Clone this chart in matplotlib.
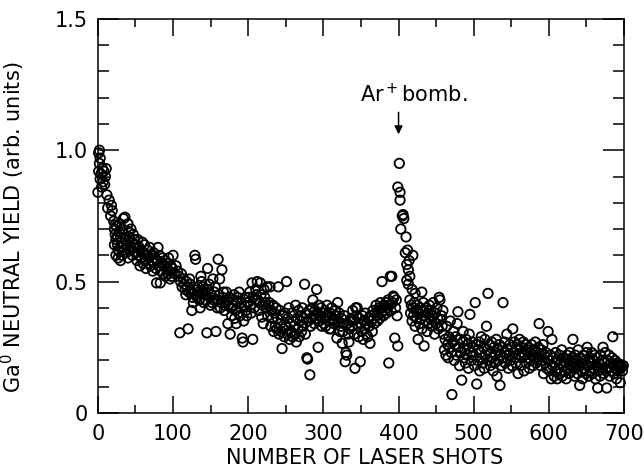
import numpy as np
import matplotlib
matplotlib.use("Agg")
import matplotlib.pyplot as plt
from matplotlib.ticker import MultipleLocator

plt.rcParams['font.family'] = ['DejaVu Sans']

# data, in segments along the shot axis
# first shots (0-50)
shots_start = [1, 2, 3, 2, 1, 4, 6, 8, 10, 3, 7, 9, 5, 11, 0, 12, 15, 13, 18, 17, 19,
               21, 22, 23, 24, 25, 26, 27, 24, 28, 29, 30, 31, 32, 33, 34, 35, 36, 37, 38,
               39, 40, 41, 42, 43, 44, 45, 46, 47, 48, 49, 27, 30, 22, 26, 32, 35, 40, 44, 23, 28]
yield_start = [0.99, 1.00, 0.97, 0.95, 0.92, 0.91, 0.93, 0.92, 0.90, 0.89, 0.88, 0.87, 0.86, 0.93, 0.84, 0.83, 0.81, 0.78, 0.79, 0.75, 0.77,
               0.73, 0.70, 0.68, 0.66, 0.71, 0.64, 0.62, 0.60, 0.69, 0.72, 0.67, 0.65, 0.63, 0.70, 0.74, 0.68, 0.745, 0.66, 0.61,
               0.64, 0.72, 0.69, 0.67, 0.62, 0.70, 0.65, 0.60, 0.68, 0.63, 0.66, 0.59, 0.58, 0.64, 0.67, 0.60, 0.62, 0.59, 0.63, 0.715, 0.615]

# 50-100
shots_early = list(range(50, 101))
yield_early = [0.64, 0.61, 0.58, 0.66, 0.60, 0.63, 0.56, 0.62, 0.59, 0.65, 0.57, 0.61, 0.64, 0.58, 0.55, 0.60, 0.62,
               0.57, 0.59, 0.63, 0.56, 0.60, 0.58, 0.54, 0.61, 0.57, 0.59, 0.55, 0.495, 0.58, 0.63, 0.56, 0.60, 0.495,
               0.54, 0.57, 0.59, 0.53, 0.56, 0.58, 0.52, 0.55, 0.57, 0.53, 0.59, 0.54, 0.51, 0.56, 0.52, 0.55, 0.60]

# 100-200
shots_mid1 = [106, 108, 110, 109, 112, 114, 116, 118, 120, 121, 123, 125, 126, 128, 129, 130, 131, 133, 135, 137,
              138, 139, 140, 141, 143, 145, 146, 147, 149, 150, 152, 153, 155, 157, 158, 160, 161, 162, 163, 165,
              166, 167, 168, 170, 171, 173, 174, 175, 176, 177, 178, 180, 181, 183, 184, 185, 187, 188, 190, 192,
              193, 194, 195, 196, 198, 199, 102, 104, 111, 115, 117, 119, 122, 124, 127, 132, 134, 136, 142, 144,
              148, 151, 154, 156, 159, 164, 169, 172, 179, 182, 186, 189, 191, 197]
yield_mid1 = [0.54, 0.52, 0.50, 0.305, 0.48, 0.51, 0.47, 0.50, 0.32, 0.46, 0.49, 0.39, 0.44, 0.47, 0.60, 0.585, 0.45, 0.48, 0.43, 0.52,
              0.50, 0.46, 0.48, 0.42, 0.45, 0.305, 0.55, 0.47, 0.44, 0.41, 0.42, 0.51, 0.46, 0.31, 0.43, 0.585, 0.45, 0.51, 0.40, 0.545,
              0.44, 0.46, 0.39, 0.42, 0.46, 0.34, 0.41, 0.44, 0.30, 0.40, 0.37, 0.43, 0.45, 0.39, 0.34, 0.42, 0.38, 0.46, 0.40, 0.285,
              0.27, 0.35, 0.41, 0.44, 0.37, 0.42, 0.53, 0.56, 0.53, 0.49, 0.45, 0.48, 0.51, 0.46, 0.42, 0.44, 0.46, 0.40, 0.47, 0.43,
              0.49, 0.45, 0.43, 0.48, 0.40, 0.42, 0.41, 0.43, 0.41, 0.36, 0.44, 0.37, 0.42, 0.39]

# 200-300
shots_mid2 = list(range(200, 300))
yield_mid2 = [0.42, 0.44, 0.46, 0.41, 0.38, 0.495, 0.28, 0.44, 0.40, 0.43, 0.47, 0.45, 0.50, 0.43, 0.39, 0.42, 0.495, 0.45, 0.365, 0.41,
              0.34, 0.47, 0.44, 0.42, 0.40, 0.48, 0.37, 0.41, 0.42, 0.48, 0.33, 0.39, 0.36, 0.41, 0.31, 0.38, 0.33, 0.40, 0.32, 0.36,
              0.48, 0.30, 0.39, 0.34, 0.31, 0.245, 0.37, 0.32, 0.29, 0.38, 0.33, 0.50, 0.30, 0.36, 0.40, 0.28, 0.34, 0.31, 0.38, 0.29,
              0.35, 0.33, 0.30, 0.41, 0.27, 0.36, 0.32, 0.39, 0.29, 0.35, 0.37, 0.31, 0.40, 0.33, 0.36, 0.49, 0.30, 0.38, 0.21, 0.205,
              0.35, 0.39, 0.145, 0.33, 0.36, 0.40, 0.43, 0.37, 0.34, 0.39, 0.36, 0.47, 0.38, 0.25, 0.41, 0.35, 0.37, 0.40, 0.33, 0.38]

# 300-399 (before bombardment)
shots_mid3 = list(range(300, 400))
yield_mid3 = [0.36, 0.34, 0.39, 0.33, 0.37, 0.41, 0.37, 0.35, 0.32, 0.38, 0.32, 0.40, 0.35, 0.36, 0.34, 0.37, 0.39, 0.37, 0.285, 0.42,
              0.35, 0.38, 0.31, 0.33, 0.36, 0.265, 0.31, 0.34, 0.37, 0.195, 0.23, 0.22, 0.34, 0.30, 0.27, 0.32, 0.35, 0.36, 0.33, 0.39,
              0.35, 0.30, 0.17, 0.40, 0.37, 0.40, 0.33, 0.29, 0.36, 0.195, 0.34, 0.31, 0.37, 0.28, 0.35, 0.32, 0.38, 0.30, 0.34, 0.29,
              0.36, 0.33, 0.265, 0.37, 0.35, 0.31, 0.39, 0.36, 0.34, 0.38, 0.41, 0.37, 0.35, 0.39, 0.40, 0.36, 0.42, 0.38, 0.50, 0.40,
              0.37, 0.41, 0.39, 0.42, 0.38, 0.40, 0.43, 0.19, 0.41, 0.52, 0.39, 0.52, 0.42, 0.445, 0.44, 0.285, 0.40, 0.43, 0.37, 0.255]

# peak after Ar+ bombardment
shots_peak = [401, 399, 402, 402, 406, 407, 405, 403, 410, 409, 412, 419, 411, 413, 414, 411, 413, 418, 415, 422, 431]
yield_peak = [0.95, 0.86, 0.84, 0.81, 0.755, 0.74, 0.75, 0.70, 0.67, 0.61, 0.62, 0.60, 0.565, 0.545, 0.58, 0.505, 0.49, 0.47, 0.52, 0.455, 0.46]

# 415-460
shots_late1 = list(range(415, 460))
yield_late1 = [0.43, 0.38, 0.41, 0.35, 0.40, 0.37, 0.42, 0.33, 0.39, 0.36, 0.41, 0.28, 0.38, 0.34, 0.40, 0.36, 0.32, 0.39, 0.42, 0.255,
               0.37, 0.35, 0.40, 0.31, 0.38, 0.34, 0.41, 0.36, 0.39, 0.33, 0.37, 0.42, 0.35, 0.30, 0.38, 0.34, 0.40, 0.36, 0.32, 0.44,
               0.43, 0.355, 0.37, 0.33, 0.39]

# 460-500
shots_late2 = list(range(460, 500))
yield_late2 = [0.30, 0.24, 0.28, 0.22, 0.33, 0.26, 0.21, 0.29, 0.25, 0.35, 0.23, 0.07, 0.27, 0.31, 0.20, 0.26, 0.29, 0.22, 0.34, 0.385,
               0.25, 0.18, 0.28, 0.23, 0.125, 0.27, 0.31, 0.21, 0.24, 0.19, 0.28, 0.22, 0.26, 0.17, 0.30, 0.375, 0.23, 0.20, 0.27, 0.25]

# 500-600
shots_late3 = list(range(500, 600))
yield_late3 = [0.22, 0.18, 0.42, 0.26, 0.11, 0.20, 0.24, 0.27, 0.16, 0.23, 0.29, 0.21, 0.19, 0.25, 0.17, 0.28, 0.22, 0.33, 0.24, 0.455,
               0.20, 0.26, 0.18, 0.23, 0.27, 0.21, 0.16, 0.25, 0.19, 0.22, 0.28, 0.14, 0.24, 0.20, 0.26, 0.105, 0.22, 0.18, 0.25, 0.42,
               0.21, 0.27, 0.19, 0.23, 0.30, 0.24, 0.17, 0.22, 0.26, 0.20, 0.25, 0.18, 0.32, 0.23, 0.27, 0.21, 0.19, 0.24, 0.26, 0.15,
               0.22, 0.28, 0.18, 0.25, 0.21, 0.23, 0.27, 0.16, 0.22, 0.26, 0.19, 0.24, 0.21, 0.25, 0.17, 0.23, 0.20, 0.26, 0.22, 0.18,
               0.24, 0.21, 0.27, 0.19, 0.23, 0.20, 0.25, 0.34, 0.22, 0.18, 0.24, 0.20, 0.26, 0.15, 0.22, 0.19, 0.23, 0.17, 0.21, 0.31]

# 600-700
shots_end = list(range(600, 700))
yield_end = [0.20, 0.16, 0.22, 0.13, 0.28, 0.18, 0.21, 0.14, 0.19, 0.23, 0.16, 0.13, 0.20, 0.17, 0.22, 0.15, 0.19, 0.24, 0.14, 0.18,
             0.21, 0.16, 0.19, 0.13, 0.22, 0.17, 0.20, 0.15, 0.23, 0.18, 0.16, 0.21, 0.28, 0.19, 0.14, 0.22, 0.17, 0.20, 0.15, 0.24,
             0.18, 0.105, 0.21, 0.16, 0.19, 0.13, 0.22, 0.17, 0.20, 0.15, 0.23, 0.25, 0.18, 0.14, 0.21, 0.16, 0.19, 0.23, 0.15, 0.20,
             0.17, 0.22, 0.13, 0.18, 0.21, 0.095, 0.16, 0.19, 0.14, 0.22, 0.17, 0.20, 0.25, 0.15, 0.19, 0.23, 0.16, 0.095, 0.20, 0.17,
             0.22, 0.14, 0.19, 0.16, 0.21, 0.29, 0.18, 0.15, 0.20, 0.17, 0.13, 0.19, 0.16, 0.18, 0.17, 0.115, 0.18, 0.175, 0.16, 0.18]

shots = np.concatenate([shots_start, shots_early, shots_mid1, shots_mid2, shots_mid3,
                        shots_peak, shots_late1, shots_late2, shots_late3, shots_end])
yields = np.concatenate([yield_start, yield_early, yield_mid1, yield_mid2, yield_mid3,
                         yield_peak, yield_late1, yield_late2, yield_late3, yield_end])

fig = plt.figure(figsize=(6.44, 4.73), dpi=100)
ax = fig.add_axes([0.152, 0.127, 0.817, 0.833])

ax.scatter(shots, yields, s=46, facecolors='none', edgecolors='black', linewidths=1.3, clip_on=False, zorder=3)

ax.set_xlim(0, 700)
ax.set_ylim(0, 1.5)
ax.xaxis.set_major_locator(MultipleLocator(100))
ax.xaxis.set_minor_locator(MultipleLocator(50))
ax.yaxis.set_minor_locator(MultipleLocator(0.1))
ax.set_yticks([0, 0.5, 1.0, 1.5])
ax.set_yticklabels(['0', '0.5', '1.0', '1.5'])

ax.tick_params(which='both', direction='in', top=True, right=True, width=1.1, labelsize=15, color='black')
ax.tick_params(axis='x', which='major', length=12, pad=8)
ax.tick_params(axis='x', which='minor', length=6)
ax.tick_params(axis='y', which='major', length=15, pad=7)
ax.tick_params(axis='y', which='minor', length=8)
for sp in ax.spines.values():
    sp.set_linewidth(1.1)

ax.set_xlabel('NUMBER OF LASER SHOTS', fontsize=15)
ax.xaxis.set_label_coords(0.507, -0.09)
ax.xaxis.label.set_va('top')
ax.set_ylabel('Ga$^0$ NEUTRAL YIELD (arb. units)', fontsize=15)
ax.yaxis.set_label_coords(-0.135, 0.47)

# arrow marking the Ar+ bombardment
ax.annotate('', xy=(400, 1.05), xytext=(400, 1.155),
            arrowprops=dict(arrowstyle='-|>', color='black', lw=1.1, mutation_scale=12))
ax.text(349, 1.17, 'Ar$^+$bomb.', fontsize=15, ha='left', va='bottom')

plt.savefig('out.png', dpi=100)
